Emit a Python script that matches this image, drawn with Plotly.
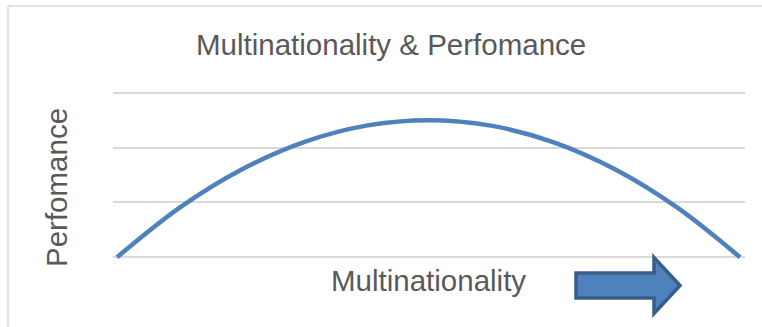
import plotly.graph_objects as go

# Conceptual curve: performance against degree of multinationality
multinationality = [0, 1, 2, 3, 4, 5, 6, 7, 8, 9, 10]
performance = [0, 0.9, 1.6, 2.1, 2.4, 2.5, 2.4, 2.1, 1.6, 0.9, 0]

W, H = 762, 327
ML, MR, MT, MB = 113, 17, 90, 67
PW, PH = W - ML - MR, H - MT - MB

TEXT = "#595959"
GRID = "#d9d9d9"
BLUE = "#4F81BD"
DARK = "#385D8A"
FONT = "Liberation Sans, Arial, sans-serif"
FS = 29.5


def px(x):
    return (x - ML) / PW


def py(y):
    return (H - MB - y) / PH


fig = go.Figure()
fig.add_trace(go.Scatter(
    x=multinationality, y=performance, mode="lines",
    line=dict(color=BLUE, width=4.5, shape="spline", smoothing=1.0),
    cliponaxis=False, hoverinfo="skip",
))

# Block arrow pointing right, below the curve
arrow_pts = [(576, 273), (654, 273), (654, 257.5), (680, 285.5),
             (654, 313.5), (654, 298), (576, 298)]
path = "M " + " L ".join(f"{px(a):.5f},{py(b):.5f}" for a, b in arrow_pts) + " Z"

shapes = [
    dict(type="path", xref="paper", yref="paper", path=path,
         fillcolor=BLUE, line=dict(color=DARK, width=3.5)),
    # chart-area border (left and top edges)
    dict(type="line", xref="paper", yref="paper",
         x0=px(8), x1=px(8), y0=py(6), y1=py(H + 5),
         line=dict(color=GRID, width=1.5)),
    dict(type="line", xref="paper", yref="paper",
         x0=px(8), x1=px(W + 5), y0=py(6), y1=py(6),
         line=dict(color=GRID, width=1.5)),
]

annotations = [
    dict(text="Multinationality & Perfomance", xref="paper", yref="paper",
         x=px(391), y=py(44), xanchor="center", yanchor="middle",
         showarrow=False, font=dict(family=FONT, size=FS, color=TEXT)),
    dict(text="Multinationality", xref="paper", yref="paper",
         x=px(428), y=py(280), xanchor="center", yanchor="middle",
         showarrow=False, font=dict(family=FONT, size=FS, color=TEXT)),
    dict(text="Perfomance", xref="paper", yref="paper", textangle=-90,
         x=px(56), y=py(188), xanchor="center", yanchor="middle",
         showarrow=False, font=dict(family=FONT, size=FS, color=TEXT)),
]

fig.update_layout(
    width=W, height=H,
    margin=dict(l=ML, r=MR, t=MT, b=MB),
    paper_bgcolor="white", plot_bgcolor="white",
    showlegend=False,
    shapes=shapes, annotations=annotations,
    xaxis=dict(range=[-0.065, 10.08], showgrid=False, zeroline=False,
               showticklabels=False, ticks="", fixedrange=True),
    yaxis=dict(range=[-0.05, 3.05], dtick=1, tick0=0, showgrid=True,
               gridcolor=GRID, gridwidth=1.5, zeroline=False,
               showticklabels=False, ticks="", fixedrange=True),
)

fig.write_html("out.html", config={"displayModeBar": False})
